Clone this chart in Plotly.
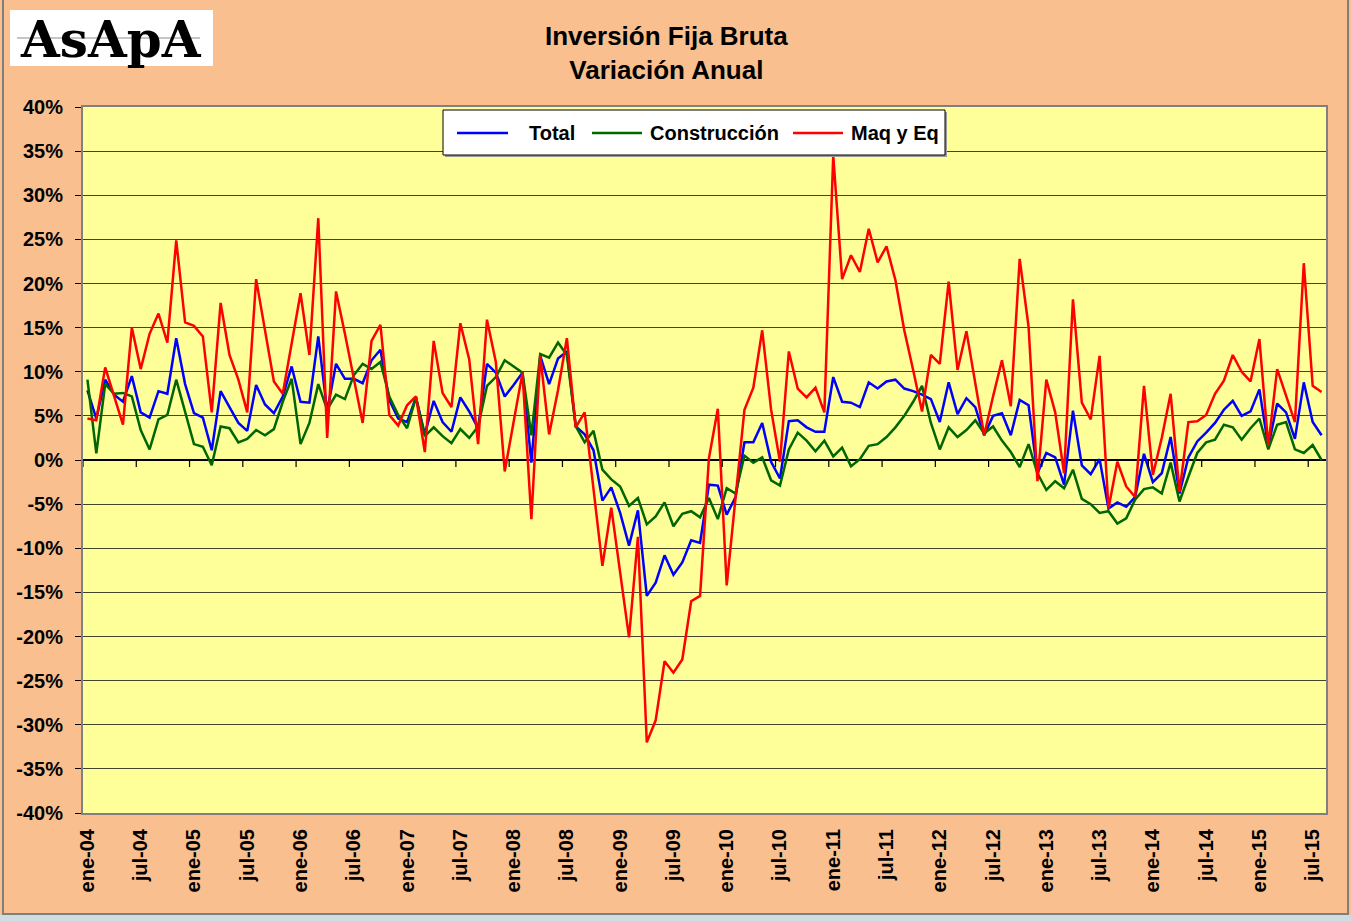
import plotly.graph_objects as go

# ---------------- data ----------------
MONTH_ABBR = ["ene", "feb", "mar", "abr", "may", "jun", "jul", "ago", "sep", "oct", "nov", "dic"]
YEARS = ["04", "05", "06", "07", "08", "09", "10", "11", "12", "13", "14", "15"]
MONTHS = [f"{m}-{y}" for y in YEARS for m in MONTH_ABBR][:140]  # ene-04 .. ago-15

TICK_LABELS = ["ene-04", "jul-04", "ene-05", "jul-05", "ene-06", "jul-06", "ene-07", "jul-07",
               "ene-08", "jul-08", "ene-09", "jul-09", "ene-10", "jul-10", "ene-11", "jul-11",
               "ene-12", "jul-12", "ene-13", "jul-13", "ene-14", "jul-14", "ene-15", "jul-15"]

Y_TICKS = [-40, -35, -30, -25, -20, -15, -10, -5, 0, 5, 10, 15, 20, 25, 30, 35, 40]
Y_TICK_TEXT = ["-40%", "-35%", "-30%", "-25%", "-20%", "-15%", "-10%", "-5%", "0%",
               "5%", "10%", "15%", "20%", "25%", "30%", "35%", "40%"]

TOTAL = [7.9, 4.7, 9.1, 7.4, 6.6, 9.5, 5.4, 4.8, 7.8, 7.5, 13.8, 8.6, 5.3, 4.8, 1.1, 7.8, 6.0, 4.2, 3.3, 8.5,
         6.3, 5.3, 7.2, 10.6, 6.6, 6.5, 14.0, 5.5, 10.9, 9.2, 9.2, 8.7, 11.3, 12.5, 6.8, 4.7, 4.3, 7.1, 2.9, 6.7,
         4.3, 3.2, 7.1, 5.5, 3.6, 10.9, 9.9, 7.2, 8.5, 9.9, -0.3, 11.8, 8.6, 11.5, 12.3, 3.8, 2.9, 1.1, -4.6, -3.1,
         -6.0, -9.7, -5.7, -15.4, -13.9, -10.8, -13.0, -11.6, -9.1, -9.4, -2.8, -2.9, -6.2, -4.2, 2.0, 2.0, 4.2, -0.2, -2.1, 4.4,
         4.5, 3.7, 3.2, 3.2, 9.4, 6.6, 6.5, 6.0, 8.8, 8.1, 8.9, 9.1, 8.1, 7.8, 7.4, 6.9, 4.3, 8.8, 5.2, 7.0,
         6.0, 2.8, 5.0, 5.3, 2.8, 6.8, 6.2, -1.5, 0.8, 0.3, -2.8, 5.6, -0.6, -1.6, 0.1, -5.5, -4.8, -5.3, -4.2, 0.7,
         -2.5, -1.5, 2.6, -3.8, 0.3, 2.1, 3.1, 4.2, 5.7, 6.7, 5.0, 5.5, 8.0, 1.5, 6.4, 5.4, 2.4, 8.8, 4.3, 2.8]

CONSTRUCCION = [9.1, 0.75, 8.6, 7.5, 7.6, 7.2, 3.4, 1.2, 4.6, 5.1, 9.1, 5.5, 1.8, 1.5, -0.6, 3.8, 3.6, 2.0, 2.4, 3.4,
                2.8, 3.5, 6.6, 9.2, 1.8, 4.2, 8.6, 5.7, 7.4, 6.9, 9.6, 10.9, 10.3, 11.1, 7.2, 5.1, 3.6, 7.1, 2.7, 3.7,
                2.7, 1.9, 3.5, 2.5, 3.8, 8.4, 9.4, 11.3, 10.6, 9.9, 2.8, 12.0, 11.6, 13.3, 11.9, 3.8, 2.0, 3.3, -1.1, -2.2,
                -3.0, -5.2, -4.3, -7.3, -6.4, -4.8, -7.5, -6.1, -5.8, -6.5, -4.3, -6.7, -3.2, -3.8, 0.5, -0.3, 0.3, -2.3, -2.9, 1.2,
                3.1, 2.2, 1.0, 2.2, 0.4, 1.4, -0.7, 0.1, 1.6, 1.8, 2.6, 3.7, 5.0, 6.6, 8.4, 4.2, 1.2, 3.7, 2.6, 3.4,
                4.5, 3.0, 3.8, 2.2, 0.9, -0.8, 1.8, -1.5, -3.4, -2.4, -3.2, -1.1, -4.4, -5.0, -6.0, -5.8, -7.2, -6.6, -4.5, -3.3,
                -3.1, -3.8, -0.3, -4.7, -1.9, 0.8, 2.0, 2.3, 4.0, 3.7, 2.3, 3.6, 4.7, 1.2, 4.0, 4.3, 1.2, 0.8, 1.7, 0.0]

MAQ_Y_EQ = [4.7, 4.5, 10.5, 7.2, 4.0, 15.0, 10.3, 14.3, 16.6, 13.3, 24.9, 15.6, 15.2, 14.0, 5.4, 17.8, 11.9, 9.1, 5.4, 20.5,
            14.7, 8.9, 7.5, 13.2, 18.9, 11.9, 27.4, 2.5, 19.1, 14.3, 9.1, 4.2, 13.5, 15.3, 5.1, 3.9, 6.2, 7.2, 0.9, 13.5,
            7.6, 6.0, 15.5, 11.4, 1.8, 15.9, 11.1, -1.3, 4.3, 9.9, -6.7, 11.8, 2.9, 7.9, 13.8, 3.7, 5.4, -3.3, -12.0, -5.4,
            -12.7, -20.1, -8.7, -32.0, -29.5, -22.8, -24.1, -22.6, -16.0, -15.4, 0.2, 5.8, -14.2, -4.2, 5.7, 8.2, 14.7, 5.7, -0.2, 12.3,
            8.1, 7.1, 8.2, 5.4, 34.5, 20.5, 23.2, 21.3, 26.2, 22.4, 24.2, 20.4, 14.7, 10.2, 5.5, 11.9, 10.9, 20.2, 10.2, 14.6,
            8.7, 2.8, 7.2, 11.3, 6.1, 22.8, 15.1, -2.4, 9.1, 5.4, -1.5, 18.2, 6.5, 4.6, 11.8, -5.5, -0.2, -3.0, -4.2, 8.4,
            -1.7, 2.5, 7.5, -3.6, 4.3, 4.4, 5.1, 7.5, 9.0, 11.9, 10.0, 8.9, 13.7, 1.6, 10.3, 7.4, 4.3, 22.3, 8.4, 7.7]

SERIES_NAMES = ["Total", "Construcción", "Maq y Eq"]
SERIES_VALUES = [TOTAL, CONSTRUCCION, MAQ_Y_EQ]
SERIES_COLORS = ["#0000FF", "#006600", "#FF0000"]

# ---------------- layout geometry ----------------
W, H = 1351, 921
L, R, T, B = 83, 1326, 107, 813   # plot area in pixels


def px(x):
    return (x - L) / (R - L)


def py(y):
    return (B - y) / (B - T)


FONT = "Liberation Sans, Arial, sans-serif"
PEACH = "#F9BF8E"

fig = go.Figure()
for name, vals, color in zip(SERIES_NAMES, SERIES_VALUES, SERIES_COLORS):
    fig.add_trace(go.Scatter(x=MONTHS, y=vals, mode="lines", name=name,
                             line=dict(color=color, width=2.5)))

shapes = []
# outer chart frame
shapes.append(dict(type="rect", xref="paper", yref="paper", x0=px(-2), x1=px(W + 2), y0=py(915), y1=py(H + 2),
                   fillcolor="#CFDDE2", line=dict(width=0), layer="below"))
shapes.append(dict(type="rect", xref="paper", yref="paper", x0=px(3), x1=px(1348), y0=py(914), y1=py(-5),
                   line=dict(color="#7F7F7F", width=2), layer="below"))
# logo box
shapes.append(dict(type="rect", xref="paper", yref="paper", x0=px(10), x1=px(213), y0=py(66), y1=py(10),
                   fillcolor="white", line=dict(width=0)))
shapes.append(dict(type="line", xref="paper", yref="paper", x0=px(17), x1=px(200), y0=py(38), y1=py(38),
                   line=dict(color="#8C8C8C", width=1)))
# x-axis tick marks on the 0% line (between categories, every 6 months)
for k in range(len(TICK_LABELS)):
    xb = 6 * k - 0.5
    shapes.append(dict(type="line", xref="x", yref="y", x0=xb, x1=xb, ysizemode="pixel",
                       yanchor=0, y0=0, y1=-7, line=dict(color="black", width=1.2)))

# legend box (drawn like the original spreadsheet legend)
LEG_BOX = (443, 110, 945, 155)
LEG_LINES = [(457, 508), (592, 642), (793, 843)]
LEG_TEXT_X = [(577, "right"), (648, "left"), (849, "left")]
LEG_Y = 133
shapes.append(dict(type="rect", xref="paper", yref="paper", x0=px(LEG_BOX[0] + 2), x1=px(LEG_BOX[2] + 2),
                   y0=py(LEG_BOX[3] + 2), y1=py(LEG_BOX[1] + 2), fillcolor="#9A9A9A", line=dict(width=0)))
shapes.append(dict(type="rect", xref="paper", yref="paper", x0=px(LEG_BOX[0]), x1=px(LEG_BOX[2]),
                   y0=py(LEG_BOX[3]), y1=py(LEG_BOX[1]), fillcolor="white", line=dict(color="black", width=1)))
for (x0, x1), color in zip(LEG_LINES, SERIES_COLORS):
    shapes.append(dict(type="line", xref="paper", yref="paper", x0=px(x0), x1=px(x1), y0=py(LEG_Y), y1=py(LEG_Y),
                       line=dict(color=color, width=2.5)))

annotations = [
    dict(xref="paper", yref="paper", x=px(111), y=py(39), text="<b>AsApA</b>", showarrow=False,
         xanchor="center", yanchor="middle",
         font=dict(family="DejaVu Serif, serif", size=50, color="black", weight="bold")),
    dict(xref="paper", yref="paper", x=px(666), y=py(53), text="Inversión Fija Bruta<br>Variación Anual",
         showarrow=False, xanchor="center", yanchor="middle",
         font=dict(family=FONT, size=26, color="black", weight="bold")),
]
for name, (tx, anchor) in zip(SERIES_NAMES, LEG_TEXT_X):
    annotations.append(dict(xref="paper", yref="paper", x=px(tx), y=py(LEG_Y), text=name, showarrow=False,
                            xanchor=anchor, yanchor="middle",
                            font=dict(family=FONT, size=20, color="black", weight="bold")))

fig.update_layout(
    width=W, height=H,
    margin=dict(l=L, r=W - R, t=T, b=H - B, pad=0),
    paper_bgcolor=PEACH,
    plot_bgcolor="#FFFF99",
    shapes=shapes,
    annotations=annotations,
    showlegend=False,
    xaxis=dict(type="category", categoryorder="array", categoryarray=MONTHS,
               range=[-0.5, len(MONTHS) - 0.5],
               tickmode="array", tickvals=TICK_LABELS, ticktext=TICK_LABELS,
               tickangle=-90, ticks="", showgrid=False, zeroline=False,
               showline=True, linecolor="#808080", linewidth=2, mirror=True,
               ticklabelstandoff=6,
               tickfont=dict(family=FONT, size=20, color="black", weight="bold")),
    yaxis=dict(range=[-40, 40], tickmode="array", tickvals=Y_TICKS, ticktext=Y_TICK_TEXT,
               ticks="outside", ticklen=6, tickcolor="black", tickwidth=1,
               showgrid=True, gridcolor="#45452F", gridwidth=1.2,
               zeroline=True, zerolinecolor="black", zerolinewidth=1.5,
               showline=True, linecolor="#808080", linewidth=2, mirror=True,
               ticklabelstandoff=8,
               tickfont=dict(family=FONT, size=20, color="black", weight="bold")),
)

fig.write_html("out.html", config={"displayModeBar": False},
               post_script="document.body.style.margin='0px';document.body.style.padding='0px';"
                           "document.body.style.background='#CFDDE2';")
